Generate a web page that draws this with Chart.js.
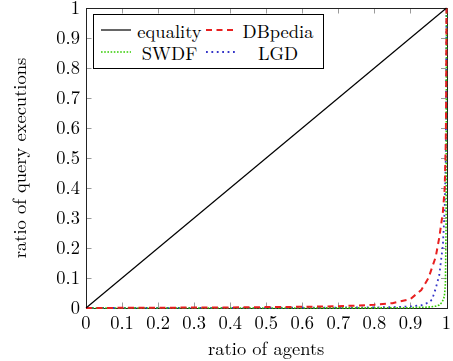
<!DOCTYPE html>
<html><head><meta charset="utf-8">
<script src="https://cdn.jsdelivr.net/npm/chart.js@4.4.0/dist/chart.umd.min.js"></script>
<style>
html,body{margin:0;padding:0;background:#fff;}
#wrap{position:relative;width:453px;height:361px;}
#c{position:absolute;left:0;top:0;}
#legend{position:absolute;left:93px;top:14px;width:229px;height:53px;border:1px solid #000;background:#fff;font-family:"Latin Modern Roman","Times New Roman",serif;font-size:18.5px;color:#000;}
#legend svg{position:absolute;left:0;top:0;}
#legend .t{position:absolute;transform:translate(-50%,-50%);line-height:1;white-space:nowrap;}
</style>
</head><body>
<div id="wrap"><canvas id="c" width="453" height="361"></canvas><div id="legend"></div></div>
<script>
const tickLabels = ['0','0.1','0.2','0.3','0.4','0.5','0.6','0.7','0.8','0.9','1'];
const seriesNames = ['equality','DBpedia','SWDF','LGD'];

const equalityX = [0, 1];
const equalityY = [0, 1];

const dbpediaX = [0, 0.1, 0.2, 0.3, 0.4, 0.5, 0.6, 0.7, 0.75, 0.8, 0.85, 0.9, 0.93, 0.95, 0.97, 0.98, 0.99, 0.995, 0.998, 0.999, 1];
const dbpediaY = [0, 0.0005, 0.001, 0.0015, 0.002, 0.003, 0.004, 0.006, 0.008, 0.011, 0.016, 0.03, 0.06, 0.1, 0.17, 0.235, 0.32, 0.4, 0.55, 0.7, 1];

const swdfX = [0, 0.2, 0.4, 0.6, 0.8, 0.9, 0.95, 0.97, 0.98, 0.985, 0.99, 0.994, 0.997, 0.999, 1];
const swdfY = [0, 0, 0.0001, 0.0002, 0.0005, 0.001, 0.003, 0.006, 0.01, 0.016, 0.025, 0.038, 0.08, 0.3, 1];

const lgdX = [0, 0.2, 0.4, 0.6, 0.8, 0.85, 0.9, 0.93, 0.95, 0.96, 0.97, 0.98, 0.99, 0.995, 0.998, 1];
const lgdY = [0, 0.0002, 0.0005, 0.001, 0.002, 0.003, 0.005, 0.009, 0.018, 0.028, 0.065, 0.11, 0.21, 0.33, 0.5, 1];

const toPts = (xs, ys) => xs.map((x, i) => ({x: x, y: ys[i]}));
const FONT = '"Latin Modern Roman", "Times New Roman", serif';

const styles = [
  {color:'#000000', width:1.2, dash:[]},
  {color:'#e82020', width:2, dash:[6,4.5]},
  {color:'#33cc00', width:1.6, dash:[1.6,1.6]},
  {color:'#3535c8', width:1.8, dash:[1.8,3.6]}
];
const seriesData = [toPts(equalityX,equalityY), toPts(dbpediaX,dbpediaY), toPts(swdfX,swdfY), toPts(lgdX,lgdY)];

const frameTicks = {
  id:'frameTicks',
  beforeDatasetsDraw(chart){
    const {ctx, chartArea:a, scales:{x, y}} = chart;
    ctx.save();
    ctx.strokeStyle = '#9a9a9a';
    ctx.lineWidth = 1;
    const L = 5.5;
    ctx.beginPath();
    x.ticks.forEach(t => {
      const p = Math.round(x.getPixelForValue(t.value)) + 0.5;
      ctx.moveTo(p, a.bottom); ctx.lineTo(p, a.bottom - L);
      ctx.moveTo(p, a.top); ctx.lineTo(p, a.top + L);
    });
    y.ticks.forEach(t => {
      const p = Math.round(y.getPixelForValue(t.value)) + 0.5;
      ctx.moveTo(a.left, p); ctx.lineTo(a.left + L, p);
      ctx.moveTo(a.right, p); ctx.lineTo(a.right - L, p);
    });
    ctx.stroke();
    ctx.strokeStyle = '#222';
    ctx.lineWidth = 1;
    ctx.strokeRect(Math.round(a.left)+0.5, Math.round(a.top)+0.5, Math.round(a.right-a.left), Math.round(a.bottom-a.top));
    ctx.restore();
  }
};

const chart = new Chart(document.getElementById('c'), {
  type:'scatter',
  data:{
    datasets: seriesNames.map((n, i) => ({
      label:n, data:seriesData[i], showLine:true, pointRadius:0, tension:0,
      borderColor:styles[i].color, borderWidth:styles[i].width, borderDash:styles[i].dash,
      borderCapStyle:'butt', fill:false, clip:4
    }))
  },
  options:{
    responsive:false, animation:false, devicePixelRatio:1,
    layout:{padding:{left:0, right:6.5, top:8, bottom:0}},
    plugins:{legend:{display:false}, tooltip:{enabled:false}},
    scales:{
      x:{
        type:'linear', min:0, max:1,
        ticks:{stepSize:0.1, autoSkip:false, maxRotation:0, color:'#000', padding:4,
          font:{family:FONT, size:18.5}, callback:v => tickLabels[Math.round(v*10)]},
        grid:{display:false, drawTicks:false},
        border:{display:false},
        title:{display:true, text:'ratio of agents', color:'#000', font:{family:FONT, size:18.5, lineHeight:1}, padding:{top:0, bottom:2}},
        afterFit(s){ s.height = 53; s.paddingLeft = 0; s.paddingRight = 0; }
      },
      y:{
        type:'linear', min:0, max:1,
        ticks:{stepSize:0.1, autoSkip:false, color:'#000', padding:6,
          font:{family:FONT, size:18.5}, callback:v => tickLabels[Math.round(v*10)]},
        grid:{display:false, drawTicks:false},
        border:{display:false},
        title:{display:true, text:'ratio of query executions', color:'#000', font:{family:FONT, size:18.5, lineHeight:1}, padding:{top:11.5, bottom:0}},
        afterFit(s){ s.width = 86; s.paddingTop = 0; s.paddingBottom = 0; }
      }
    }
  },
  plugins:[frameTicks]
});

(function(){
  const lg = document.getElementById('legend');
  const rows = [15, 37];
  const sampleX = [[7,37],[112,142]];
  const textX = [75.5, 184];
  let svg = '<svg width="229" height="53">';
  let html = '';
  chart.data.datasets.forEach((d, i) => {
    const r = Math.floor(i/2), c = i%2;
    svg += `<line x1="${sampleX[c][0]}" y1="${rows[r]}" x2="${sampleX[c][1]}" y2="${rows[r]}" stroke="${d.borderColor}" stroke-width="${d.borderWidth}" stroke-dasharray="${d.borderDash.length? d.borderDash.join(' '):'none'}"/>`;
    html += `<span class="t" style="left:${textX[c]}px;top:${rows[r]}px">${d.label}</span>`;
  });
  svg += '</svg>';
  lg.innerHTML = svg + html;
})();
</script>
</body></html>
